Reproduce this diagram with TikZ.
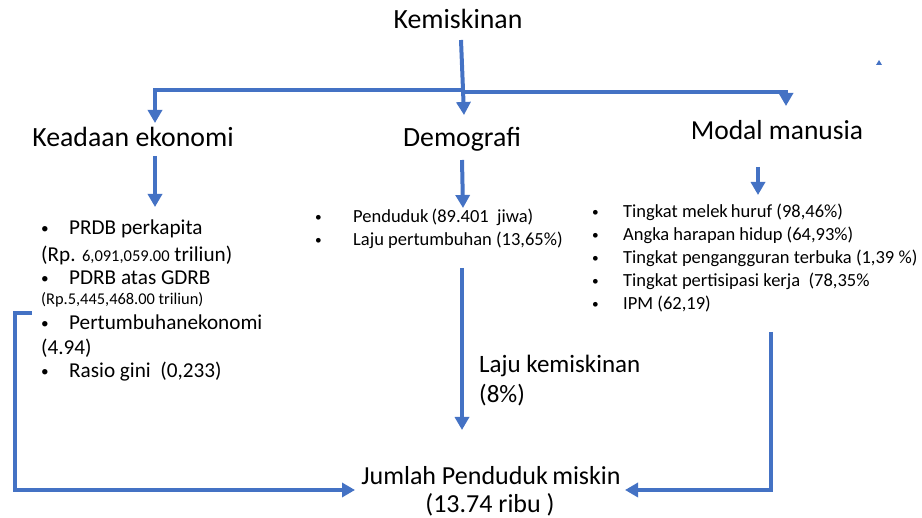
\documentclass[tikz,border=0pt]{standalone}
\usepackage{fontspec}
\setmainfont{Carlito}
\usetikzlibrary{arrows.meta}
\definecolor{obl}{HTML}{4472C4}
\newcommand{\mybul}[1]{\makebox[#1][l]{\raisebox{0.08em}{\scalebox{0.72}{\textbullet}}}}
\begin{document}
\begin{tikzpicture}[x=1pt,y=-1pt,
  arr/.style={draw=obl,line width=4pt,-{Triangle[width=14pt,length=13pt]}},
  ln/.style={draw=obl,line width=4pt},
  head/.style={inner sep=0pt,anchor=base,font=\fontsize{27.8}{33}\selectfont},
  mid/.style={inner sep=0pt,font=\fontsize{25}{30}\selectfont},
  itm/.style={inner sep=0pt,anchor=base west,font=\fontsize{18.5}{22}\selectfont},
  itl/.style={inner sep=0pt,anchor=base west,font=\fontsize{21.2}{25}\selectfont},
  sml/.style={font=\fontsize{16.4}{20}\selectfont}
]
\useasboundingbox (0,0) rectangle (922,518);
% headings
\node[head] (kem) at (458,29) {Kemiskinan};
\node[head] (eko) at (133,147) {Keadaan ekonomi};
\node[head] (dem) at (462,147) {Demografi};
\node[head,font=\fontsize{27.5}{32}\selectfont] (mod) at (777,140) {Modal manusia};
% left list
\node[itl] (l1) at (41,235) {\mybul{28pt}PRDB perkapita};
\node[itl] (l2) at (41,262) {(Rp. {\fontsize{16.5}{20}\selectfont 6,091,059.00} triliun)};
\node[itl] (l3) at (41,285) {\mybul{28pt}PDRB atas GDRB};
\node[itl,sml] (l4) at (41,305) {(Rp.5,445,468.00 triliun)};
\node[itl] (l5) at (41,330) {\mybul{28pt}Pertumbuhanekonomi};
\node[itl] (l6) at (41,355) {(4.94)};
\node[itl] (l7) at (41,378) {\mybul{28pt}Rasio gini~~(0,233)};
% middle list
\node[itm] (m1) at (315,223) {\mybul{38pt}Penduduk\,(89.401~~jiwa)};
\node[itm] (m2) at (315,246) {\mybul{38pt}Laju pertumbuhan (13,65\%)};
% right list
\node[itm] (r1) at (592,218) {\mybul{31pt}Tingkat melek\,huruf (98,46\%)};
\node[itm] (r2) at (592,241) {\mybul{31pt}Angka harapan hidup (64,93\%)};
\node[itm] (r3) at (592,264) {\mybul{31pt}Tingkat pengangguran terbuka (1,39 \%)};
\node[itm] (r4) at (592,287) {\mybul{31pt}Tingkat pertisipasi kerja~~(78,35\%};
\node[itm] (r5) at (592,310) {\mybul{31pt}IPM (62,19)};
% middle labels
\node[mid,anchor=base west] (laju) at (479,373) {Laju kemiskinan};
\node[mid,anchor=base west] (lajuv) at (479,403) {(8\%)};
\node[inner sep=0pt,anchor=base,font=\fontsize{26}{31}\selectfont] (jum) at (491,485) {Jumlah Penduduk\,miskin};
\node[inner sep=0pt,anchor=base,font=\fontsize{26}{31}\selectfont] (jumv) at (490,513) {(13.74 ribu )};
% connector points
\coordinate (kb) at (461,40);
\coordinate (dt) at (464,115);
\coordinate (jl) at (463,90);
\coordinate (jr) at (463,92);
\coordinate (ekt) at (155,123);
\coordinate (mot) at (786,106);
\coordinate (eks) at (155,156);
\coordinate (ekl) at (155,207);
\coordinate (dms) at (462,160);
\coordinate (dml) at (463,208);
\coordinate (mos) at (758,167);
\coordinate (mol) at (758,195);
\coordinate (dls) at (462,268);
\coordinate (dle) at (462,430);
\coordinate (lst) at (32,313);
\coordinate (lcr) at (15,313);
\coordinate (lin) at (355,490);
\coordinate (rst) at (771,332);
\coordinate (rin) at (625,490);
% connectors
\draw[arr] (kb) -- (dt);
\draw[arr] (jl) -| (ekt);
\draw[arr] (jr) -| (mot);
\draw[arr] (eks) -- (ekl);
\draw[arr] (dms) -- (dml);
\draw[arr] (mos) -- (mol);
\draw[arr] (dls) -- (dle);
\draw[arr] (lst) -- (lcr) |- (lin);
\draw[arr] (rst) |- (rin);
% stray mark
\fill[obl] (876,65) -- (882,65) -- (879,60) -- cycle;
\end{tikzpicture}
\end{document}
